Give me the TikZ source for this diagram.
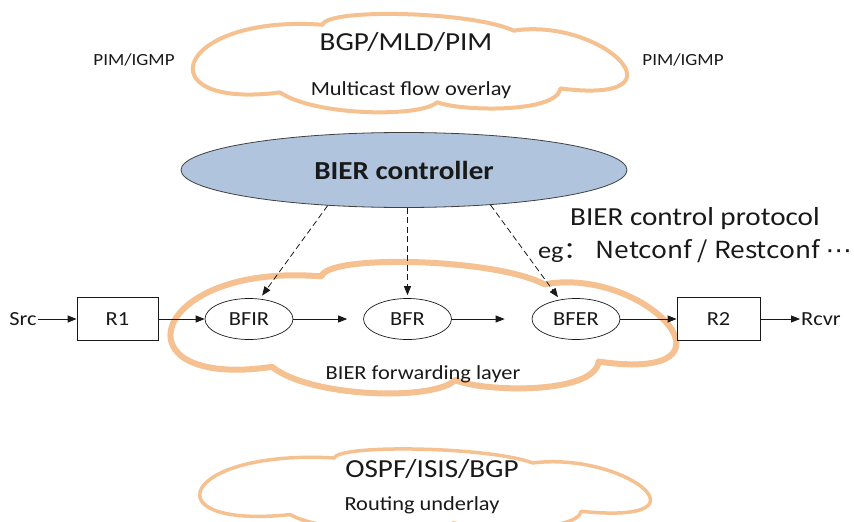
\documentclass[tikz,border=0pt]{standalone}
\usepackage{fontspec}
\setmainfont{Carlito}
\newfontfamily\cjk{Noto Sans CJK SC}
\newfontfamily\symf{DejaVu Sans}
\usepackage{graphicx}
\usetikzlibrary{shapes.geometric,arrows.meta}

\definecolor{cloudc}{RGB}{245,193,144}
\definecolor{ctrlfill}{RGB}{176,196,222}
\definecolor{ink}{RGB}{25,25,25}

% slightly widened lettering
\newcommand\sx[1]{\scalebox{1.12}[1]{#1}}
\newcommand\fbig{\fontsize{26}{31}\selectfont}
\newcommand\fline{\fontsize{23.5}{28}\selectfont}
\newcommand\fmid{\fontsize{20}{24}\selectfont}
\newcommand\fsm{\fontsize{17}{20}\selectfont}

% cloud outline: top-left corner (#1,#2), width #3, height #4, line width #5
\newcommand\drawcloud[5]{%
  \begin{scope}[shift={(#1,#2)}, x=#3pt, y=-#4pt]
    \draw[cloudline, line width=#5]
      (0.20,0.80) .. controls (-0.12,0.98) and (-0.05,0.00) .. (0.30,0.11)
      .. controls (0.31,-0.06) and (0.65,-0.03) .. (0.75,0.17)
      .. controls (0.96,0.03) and (1.17,0.93) .. (0.86,0.76)
      .. controls (0.85,1.02) and (0.62,0.99) .. (0.57,0.90)
      .. controls (0.53,1.06) and (0.28,1.04) .. (0.20,0.80) -- cycle;
  \end{scope}}

\begin{document}
\begin{tikzpicture}[x=1pt, y=-1pt,
  cloudline/.style={draw=cloudc, fill=white, line join=round},
  lbl/.style={inner sep=1pt, text=ink, font=\fmid},
  flow/.style={-{Triangle[length=9pt,width=7pt]}, line width=0.8pt, draw=ink},
  ctl/.style={flow, dash pattern=on 6pt off 3.5pt},
  rnode/.style={draw=ink, line width=0.8pt, fill=white, minimum height=43pt,
                inner sep=0pt, text=ink, font=\fmid},
  fnode/.style={ellipse, draw=ink, line width=0.7pt, fill=white,
                minimum width=88pt, minimum height=41pt, inner sep=0pt,
                text=ink, font=\fmid},
  ctrlnode/.style={ellipse, draw=black!75, line width=0.8pt, fill=ctrlfill,
                minimum width=446pt, minimum height=75pt, inner sep=0pt,
                text=ink, font=\fbig\bfseries}]

\useasboundingbox (0,0) rectangle (854,522);
\clip (0,0) rectangle (854,522);
\fill[white] (0,0) rectangle (854,522);

% overlay, forwarding and underlay clouds
\drawcloud{195}{14}{425}{98}{4pt}
\drawcloud{173}{262}{495}{131}{6pt}
\drawcloud{202}{449}{441}{82}{3.5pt}

% multicast flow overlay
\node[lbl, font=\fsm] (pimL) at (134,60) {\sx{PIM/IGMP}};
\node[lbl, font=\fsm] (pimR) at (683,60) {\sx{PIM/IGMP}};
\node[lbl, font=\fbig, anchor=base] (ovproto) at (406,50) {\sx{BGP/MLD/PIM}};
\node[lbl, anchor=base] (ovname) at (411,95) {\sx{Multicast flow overlay}};

% controller
\node[ctrlnode] (ctrl) at (404,170) {\sx{BIER controller}};
\node[lbl, font=\fbig, anchor=base] (proto1) at (695,225) {\sx{BIER control protocol}};
\node[lbl, font=\fline, anchor=base] (proto2) at (695,258)
  {\sx{eg\cjk{：} Netconf / Restconf {\symf ⋯}}};

% forwarding layer
\node[lbl] (src) at (23,319) {\sx{Src}};
\node[rnode, minimum width=81pt] (r1) at (117.5,319) {\sx{R1}};
\node[fnode] (bfir) at (249,319) {\sx{BFIR}};
\node[fnode] (bfrn) at (407.5,319) {\sx{BFR}};
\node[fnode] (bfer) at (576,319) {\sx{BFER}};
\node[rnode, minimum width=83pt] (r2) at (718.5,319) {\sx{R2}};
\node[lbl] (rcvr) at (821,319) {\sx{Rcvr}};
\node[lbl, anchor=base] (fwname) at (423,379) {\sx{BIER forwarding layer}};

\draw[flow] (src) -- (r1);
\draw[flow] (r1) -- (bfir);
\draw[flow, shorten >=16pt] (bfir) -- (bfrn);
\draw[flow, shorten >=27pt] (bfrn) -- (bfer);
\draw[flow] (bfer) -- (r2);
\draw[flow] (r2) -- (rcvr);

\draw[ctl, shorten >=4pt] (ctrl.205) -- (bfir.62);
\draw[ctl, shorten >=3pt] (ctrl.south -| bfrn.north) -- (bfrn.north);
\draw[ctl, shorten >=3pt] (ctrl.338) -- (bfer.130);

% routing underlay
\node[lbl, font=\fbig, anchor=base] (unproto) at (432,477) {\sx{OSPF/ISIS/BGP}};
\node[lbl, anchor=base] (unname) at (422,510) {\sx{Routing underlay}};
\end{tikzpicture}
\end{document}
